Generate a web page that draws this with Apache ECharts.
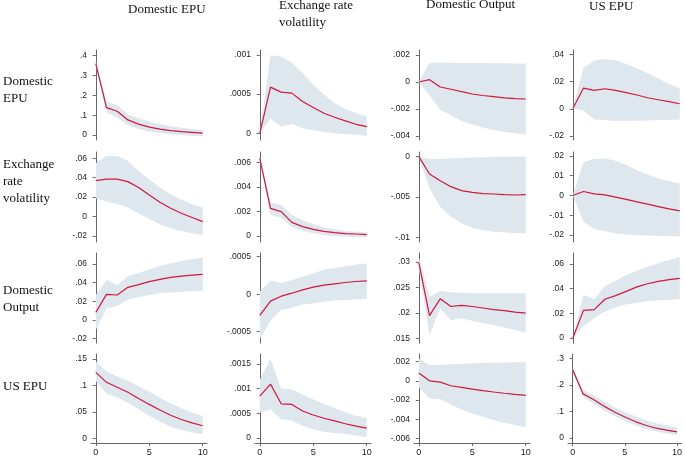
<!DOCTYPE html>
<html><head><meta charset="utf-8">
<script src="https://cdn.jsdelivr.net/npm/echarts@6/dist/echarts.min.js"></script>
<style>html,body{margin:0;padding:0;background:#fff}#c{width:685px;height:457px}</style>
</head><body><div id="c"></div>
<script>
// Horizon (x axis)
const horizon = [0,1,2,3,4,5,6,7,8,9,10];
const xTicks = [0,5,10];
// Column titles (responses) and row titles (impulses)
const colTitles = [['Domestic EPU'], ['Exchange rate', 'volatility'], ['Domestic Output'], ['US EPU']];
const rowTitles = [['Domestic', 'EPU'], ['Exchange', 'rate', 'volatility'], ['Domestic', 'Output'], ['US EPU']];

// Row 1: impulse Domestic EPU
const p11_irf = [0.36,0.138,0.12,0.076,0.055,0.04,0.03,0.022,0.017,0.013,0.009];
const p11_hi  = [0.372,0.168,0.151,0.104,0.085,0.068,0.055,0.045,0.036,0.03,0.025];
const p11_lo  = [0.348,0.115,0.088,0.05,0.03,0.018,0.01,0.004,0.0,-0.004,-0.007];
const p12_irf = [0,0.00059,0.000526,0.000513,0.000406,0.00033,0.000256,0.000205,0.000158,0.000115,0.000085];
const p12_hi  = [0,0.000996,0.00098,0.0009,0.00077,0.00062,0.0005,0.000385,0.00031,0.000256,0.000214];
const p12_lo  = [0,0.000188,0.000085,0.00012,0.000064,0.000043,0.000017,0,-0.000013,-0.00002,-0.00003];
const p13_irf = [0,0.00017,-0.00037,-0.00054,-0.00072,-0.00089,-0.001,-0.00109,-0.00118,-0.00123,-0.00126];
const p13_hi  = [0,0.00143,0.00143,0.00142,0.00141,0.0014,0.0014,0.00139,0.00138,0.00137,0.00135];
const p13_lo  = [0,-0.00099,-0.00205,-0.00247,-0.00289,-0.00316,-0.00338,-0.00356,-0.0037,-0.0038,-0.0039];
const p14_irf = [0,0.0152,0.0135,0.0147,0.0135,0.0118,0.0101,0.0081,0.0066,0.0052,0.0037];
const p14_hi  = [0,0.0302,0.0353,0.0366,0.0358,0.0329,0.0297,0.026,0.0223,0.0182,0.015];
const p14_lo  = [0,-0.001,-0.0079,-0.0083,-0.009,-0.0088,-0.0088,-0.0086,-0.0083,-0.0083,-0.0079];
// Row 2: impulse Exchange rate volatility
const p21_irf = [0.0371,0.0385,0.0385,0.036,0.0299,0.0223,0.0148,0.0086,0.0034,-0.001,-0.0052];
const p21_hi  = [0.0549,0.0625,0.0625,0.0573,0.047,0.0378,0.0299,0.023,0.0172,0.0127,0.0093];
const p21_lo  = [0.0189,0.0155,0.013,0.0093,0.0034,-0.0024,-0.0079,-0.012,-0.0148,-0.0172,-0.019];
const p22_irf = [0.00632,0.00225,0.00198,0.00111,0.00076,0.00054,0.00038,0.00027,0.00019,0.00016,0.00011];
const p22_hi  = [0.0065,0.00274,0.00252,0.00171,0.0013,0.00098,0.0007,0.00054,0.00041,0.00035,0.0003];
const p22_lo  = [0.0062,0.00171,0.00149,0.00076,0.00041,0.00022,0.00008,0,-0.00005,-0.00006,-0.00008];
const p23_irf = [0,-0.00215,-0.00298,-0.00372,-0.00421,-0.00442,-0.00459,-0.00463,-0.00471,-0.00475,-0.00471];
const p23_hi  = [0,-0.0003,-0.00028,-0.0002,-0.00015,-0.0001,-0.00007,-0.00004,-0.00002,0,0.00002];
const p23_lo  = [0,-0.00393,-0.0062,-0.00744,-0.00826,-0.0088,-0.00913,-0.0093,-0.00938,-0.00946,-0.0095];
const p24_irf = [0,0.002,0.0008,0.0003,-0.0008,-0.002,-0.0032,-0.0044,-0.0056,-0.0068,-0.0078];
const p24_hi  = [0,0.017,0.0184,0.0187,0.0176,0.0154,0.0128,0.0106,0.0086,0.0073,0.0061];
const p24_lo  = [0,-0.0133,-0.017,-0.0181,-0.0192,-0.0198,-0.0201,-0.0203,-0.0205,-0.0206,-0.0208];
// Row 3: impulse Domestic Output
const p31_irf = [0.0082,0.0275,0.0268,0.035,0.0379,0.0411,0.0436,0.0457,0.0471,0.0482,0.0489];
const p31_hi  = [0.0268,0.0429,0.0375,0.0471,0.05,0.0543,0.0579,0.0607,0.0632,0.0654,0.0668];
const p31_lo  = [-0.0107,0.0125,0.015,0.0221,0.0243,0.0268,0.0286,0.0296,0.0304,0.031,0.0314];
const p32_irf = [-0.000284,-0.000093,-0.000027,0.000013,0.000058,0.000093,0.00012,0.000138,0.000156,0.000169,0.000178];
const p32_hi  = [0.000036,0.000182,0.00015,0.00019,0.000236,0.00028,0.000325,0.00035,0.00037,0.000395,0.00041];
const p32_lo  = [-0.000596,-0.000351,-0.000209,-0.000182,-0.000138,-0.00012,-0.0001,-0.000084,-0.000076,-0.000067,-0.000062];
const p33_irf = [0.0299,0.0195,0.0228,0.0213,0.0215,0.0213,0.021,0.0207,0.0205,0.0202,0.02];
const p33_hi  = [0.031,0.0232,0.0244,0.0241,0.024,0.0239,0.0239,0.0239,0.0239,0.0239,0.0239];
const p33_lo  = [0.0288,0.0157,0.021,0.0186,0.019,0.0185,0.018,0.0177,0.0172,0.0167,0.0162];
const p34_irf = [0,0.0224,0.023,0.0314,0.0343,0.0378,0.0414,0.044,0.0459,0.0473,0.0484];
const p34_hi  = [0,0.0351,0.0314,0.0422,0.0465,0.0511,0.0546,0.0578,0.0605,0.0632,0.0654];
const p34_lo  = [0,0.0097,0.016,0.0214,0.0249,0.0273,0.0286,0.0297,0.0305,0.0311,0.0314];
// Row 4: impulse US EPU
const p41_irf = [0.1245,0.1058,0.0965,0.0872,0.0754,0.0641,0.0535,0.0436,0.0355,0.0293,0.0237];
const p41_hi  = [0.145,0.1264,0.117,0.109,0.0984,0.0878,0.0766,0.066,0.0567,0.0486,0.0424];
const p41_lo  = [0.1077,0.084,0.0778,0.0672,0.0548,0.0423,0.0318,0.0218,0.0156,0.0112,0.0081];
const p42_irf = [0.000847,0.00109,0.000693,0.00068,0.000547,0.000467,0.0004,0.000347,0.00029,0.00024,0.0002];
const p42_hi  = [0.00118,0.0016,0.001,0.00098,0.00088,0.00078,0.00069,0.00061,0.00052,0.00045,0.0004];
const p42_lo  = [0.00051,0.00058,0.00038,0.00035,0.00025,0.00018,0.00013,0.0001,0.00008,0.00005,0.00002];
const p43_irf = [0.00082,0,-0.00014,-0.00052,-0.00069,-0.00086,-0.00103,-0.00117,-0.0013,-0.00141,-0.00151];
const p43_hi  = [0.00233,0.00165,0.00165,0.00172,0.00175,0.00182,0.00185,0.00188,0.00191,0.00192,0.00196];
const p43_lo  = [-0.00069,-0.00185,-0.00189,-0.00247,-0.00299,-0.0034,-0.00374,-0.00409,-0.00436,-0.0046,-0.00487];
const p44_irf = [0.2566,0.166,0.145,0.12,0.098,0.079,0.062,0.048,0.037,0.03,0.0235];
const p44_hi  = [0.263,0.182,0.161,0.139,0.116,0.098,0.082,0.067,0.056,0.047,0.04];
const p44_lo  = [0.25,0.154,0.129,0.104,0.083,0.064,0.048,0.035,0.025,0.017,0.011];

// Y tick labels per panel
const p11_ticks = [0,0.1,0.2,0.3,0.4];
const p12_ticks = [0,0.0005,0.001];
const p13_ticks = [-0.004,-0.002,0,0.002];
const p14_ticks = [-0.02,0,0.02,0.04];
const p21_ticks = [-0.02,0,0.02,0.04,0.06];
const p22_ticks = [0,0.002,0.004,0.006];
const p23_ticks = [-0.01,-0.005,0];
const p24_ticks = [-0.02,-0.01,0,0.01,0.02];
const p31_ticks = [-0.02,0,0.02,0.04,0.06];
const p32_ticks = [-0.0005,0,0.0005];
const p33_ticks = [0.015,0.02,0.025,0.03];
const p34_ticks = [0,0.02,0.04,0.06];
const p41_ticks = [0,0.05,0.1,0.15];
const p42_ticks = [0,0.0005,0.001,0.0015];
const p43_ticks = [-0.006,-0.004,-0.002,0,0.002];
const p44_ticks = [0,0.1,0.2,0.3];

// ---- layout (not data) ----
const panels = [
  [[p11_irf,p11_lo,p11_hi,p11_ticks,-0.0252,0.4287],[p12_irf,p12_lo,p12_hi,p12_ticks,-0.0000856,0.001064],[p13_irf,p13_lo,p13_hi,p13_ticks,-0.0043,0.00237],[p14_irf,p14_lo,p14_hi,p14_ticks,-0.02294,0.04316]],
  [[p21_irf,p21_lo,p21_hi,p21_ticks,-0.0262,0.0665],[p22_irf,p22_lo,p22_hi,p22_ticks,-0.00049,0.00684],[p23_irf,p23_lo,p23_hi,p23_ticks,-0.01058,0.00058],[p24_irf,p24_lo,p24_hi,p24_ticks,-0.02354,0.022]],
  [[p31_irf,p31_lo,p31_hi,p31_ticks,-0.0246,0.0718],[p32_irf,p32_lo,p32_hi,p32_ticks,-0.000651,0.000549],[p33_irf,p33_lo,p33_hi,p33_ticks,0.01416,0.03176],[p34_irf,p34_lo,p34_hi,p34_ticks,-0.00406,0.0689]],
  [[p41_irf,p41_lo,p41_hi,p41_ticks,-0.0088,0.1593],[p42_irf,p42_lo,p42_hi,p42_ticks,-0.0001,0.0017],[p43_irf,p43_lo,p43_hi,p43_ticks,-0.00648,0.00279],[p44_irf,p44_lo,p44_hi,p44_ticks,-0.0186,0.316]]
];
const colLeft = [91,255,414,568];
const rowTop = [50,152,253,354];
const gridW = 116, gridH = 90;
const lineColor = '#d0173f', bandColor = '#dee7ed', axisColor = '#666';

function fmt(v){
  let s = String(+v.toPrecision(6));
  return s.replace(/^(-?)0\./, '$1.');
}

const grid=[], xAxis=[], yAxis=[], series=[];
let k=0;
for(let r=0;r<4;r++){
  for(let c=0;c<4;c++){
    const [irf,lo,hi,ticks,ymin,ymax] = panels[r][c];
    grid.push({left:colLeft[c], top:rowTop[r], width:gridW, height:gridH});
    const bottomRow = r===3;
    xAxis.push({type:'value', gridIndex:k, min:-0.45, max:10.4,
      axisLine:{show:bottomRow, onZero:false, lineStyle:{color:axisColor,width:1}},
      axisTick:{show:bottomRow, length:3, customValues:xTicks, lineStyle:{color:axisColor}},
      axisLabel:{show:bottomRow, customValues:xTicks, margin:5, fontSize:9, color:'#222', fontFamily:'Liberation Sans'},
      splitLine:{show:false}});
    yAxis.push({type:'value', gridIndex:k, min:ymin, max:ymax,
      axisLine:{show:true, lineStyle:{color:axisColor,width:1}},
      axisTick:{show:true, length:3, customValues:ticks, lineStyle:{color:axisColor}},
      axisLabel:{customValues:ticks, margin:4, fontSize:8.5, color:'#222', fontFamily:'Liberation Sans', formatter:fmt},
      splitLine:{show:false}});
    // confidence band as one polygon through the axes' coordinate system
    series.push({type:'custom', xAxisIndex:k, yAxisIndex:k, silent:true, z:1,
      data: horizon.map((h,i)=>[h, lo[i], hi[i]]),
      renderItem: (function(lo,hi){
        return function(params, api){
          if(params.dataIndex!==0) return null;
          const pts=[];
          for(let i=0;i<horizon.length;i++) pts.push(api.coord([horizon[i], hi[i]]));
          for(let i=horizon.length-1;i>=0;i--) pts.push(api.coord([horizon[i], lo[i]]));
          return {type:'polygon', shape:{points:pts}, style:{fill:bandColor, stroke:null}};
        };
      })(lo,hi)});
    series.push({type:'line', xAxisIndex:k, yAxisIndex:k, data:horizon.map((h,i)=>[h,irf[i]]),
      symbol:'none', lineStyle:{color:lineColor, width:1.2}, z:3});
    k++;
  }
}

const graphic=[];
const serif='13px "Liberation Serif", "Times New Roman", serif';
const colTitlePos = [[128,11],[279,7.3],[426,5.7],[589,8.3]];
colTitles.forEach((lines,i)=>{
  lines.forEach((t,j)=>{
    graphic.push({type:'text', left:colTitlePos[i][0], top:colTitlePos[i][1]+j*17-8,
      style:{text:t, font:serif, fill:'#111'}});
  });
});
const rowTitlePos = [[3,83.3],[3,165.7],[3,291.7],[3,388.3]];
rowTitles.forEach((lines,i)=>{
  lines.forEach((t,j)=>{
    graphic.push({type:'text', left:rowTitlePos[i][0], top:rowTitlePos[i][1]+j*17-8,
      style:{text:t, font:serif, fill:'#111'}});
  });
});

const chart = echarts.init(document.getElementById('c'), null, {renderer:'canvas'});
chart.setOption({animation:false, backgroundColor:'#fff', grid, xAxis, yAxis, series, graphic});
</script>
</body></html>
